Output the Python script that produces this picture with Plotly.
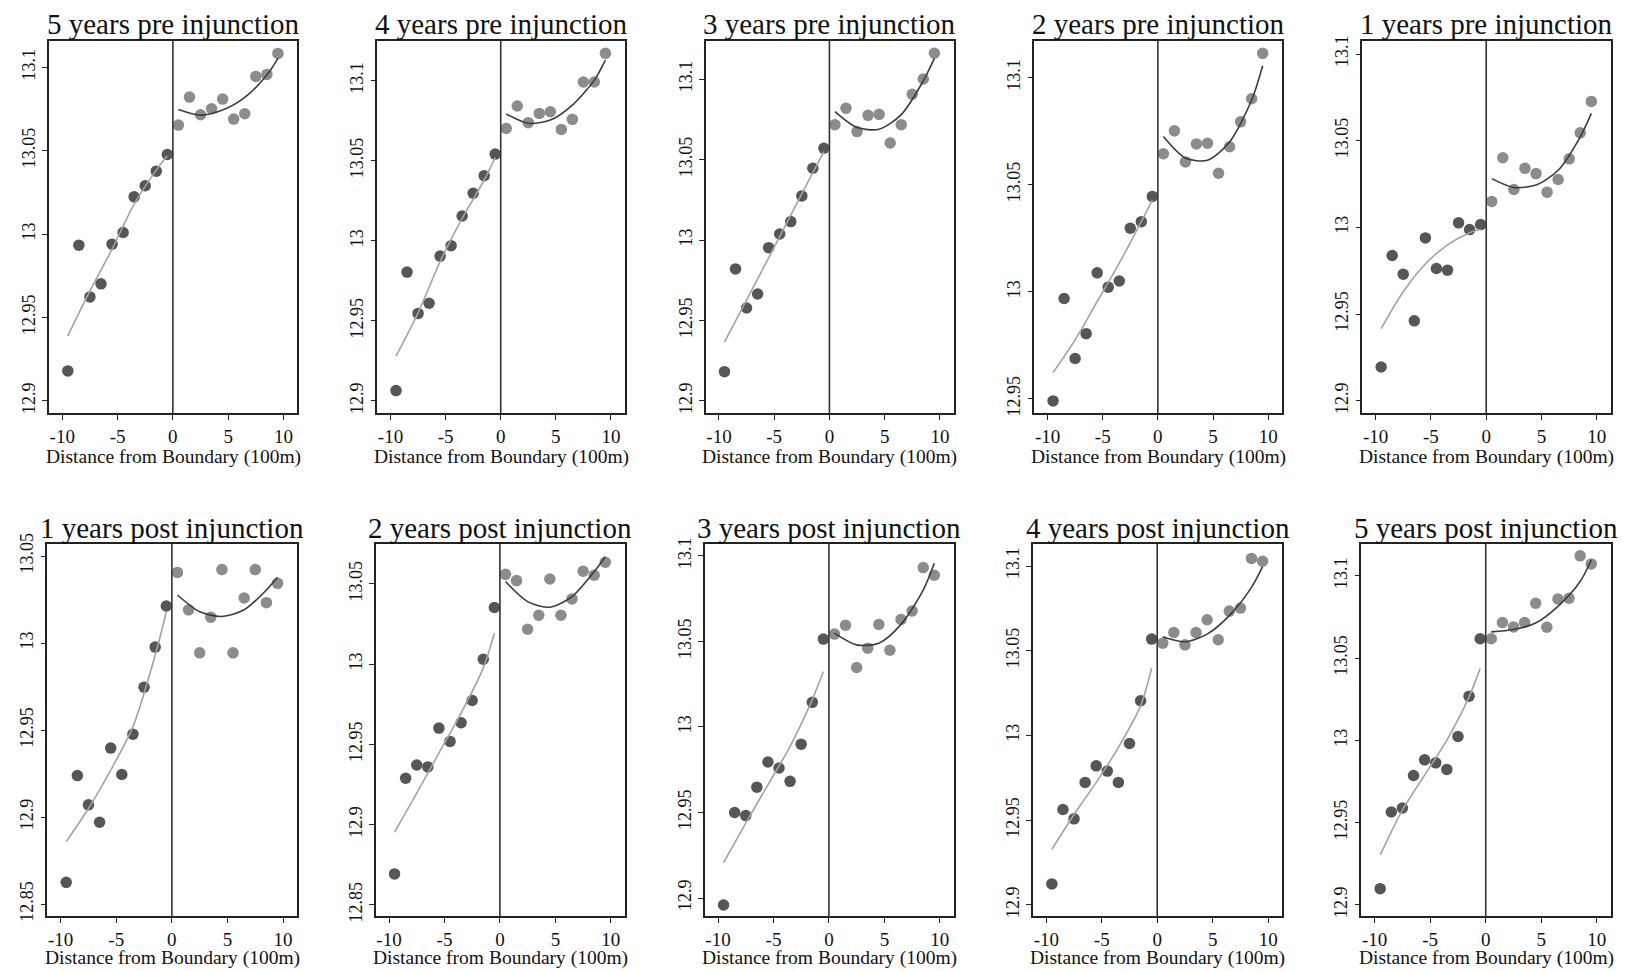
import plotly.graph_objects as go

W, H = 1629, 971

titles = ["5 years pre injunction", "4 years pre injunction", "3 years pre injunction",
          "2 years pre injunction", "1 years pre injunction",
          "1 years post injunction", "2 years post injunction", "3 years post injunction",
          "4 years post injunction", "5 years post injunction"]

x_left = [-9.5, -8.5, -7.5, -6.5, -5.5, -4.5, -3.5, -2.5, -1.5, -0.5]
x_right = [0.5, 1.5, 2.5, 3.5, 4.5, 5.5, 6.5, 7.5, 8.5, 9.5]
fit_x_left = [-9.5, -7.5, -5.5, -3.5, -1.5, -0.5]
fit_x_right = [0.5, 2.5, 4.5, 6.5, 8.5, 9.5]
x_tick_vals = [-10, -5, 0, 5, 10]
x_tick_text = ["-10", "-5", "0", "5", "10"]
x_title = "Distance from Boundary (100m)"

# binned means (left / right of boundary)
pre5_left = [12.918, 12.9934, 12.9624, 12.9702, 12.994, 13.001, 13.0224, 13.029, 13.0378, 13.0478]
pre5_right = [13.0654, 13.0822, 13.0716, 13.0752, 13.081, 13.069, 13.0722, 13.0946, 13.0958, 13.1084]
pre4_left = [12.9065, 12.9805, 12.9547, 12.961, 12.9905, 12.997, 13.0155, 13.0297, 13.0407, 13.0542]
pre4_right = [13.0702, 13.0842, 13.0738, 13.0796, 13.0806, 13.0696, 13.0759, 13.0992, 13.0992, 13.1171]
pre3_left = [12.9182, 12.9821, 12.9578, 12.9665, 12.9953, 13.0038, 13.0115, 13.0275, 13.0447, 13.0571]
pre3_right = [13.0718, 13.082, 13.0675, 13.0776, 13.0782, 13.0604, 13.0718, 13.0907, 13.1002, 13.1162]
pre2_left = [12.9491, 12.9969, 12.9689, 12.9805, 13.0089, 13.0022, 13.0051, 13.0297, 13.0328, 13.0446]
pre2_right = [13.0645, 13.0752, 13.0607, 13.0691, 13.0694, 13.0554, 13.0678, 13.0794, 13.0902, 13.1114]
pre1_left = [12.9196, 12.9839, 12.9731, 12.9462, 12.994, 12.9764, 12.9754, 13.0027, 12.9988, 13.0017]
pre1_right = [13.015, 13.0402, 13.0219, 13.0341, 13.0311, 13.0204, 13.0277, 13.0396, 13.0546, 13.0727]
post1_left = [12.8626, 12.9239, 12.9071, 12.8971, 12.9397, 12.9245, 12.9477, 12.9747, 12.9977, 13.0213]
post1_right = [13.0406, 13.0191, 12.9944, 13.0149, 13.0422, 12.9944, 13.0259, 13.0422, 13.0232, 13.0343]
post2_left = [12.8693, 12.9289, 12.9372, 12.936, 12.9602, 12.9519, 12.9635, 12.9774, 13.0031, 13.0353]
post2_right = [13.056, 13.0521, 13.0218, 13.0305, 13.0531, 13.0305, 13.0407, 13.0579, 13.0554, 13.0635]
post3_left = [12.8959, 12.95, 12.9482, 12.9648, 12.9795, 12.976, 12.9682, 12.9899, 13.0144, 13.0514]
post3_right = [13.0543, 13.0595, 13.0348, 13.0461, 13.0599, 13.0449, 13.0629, 13.0678, 13.0932, 13.0887]
post4_left = [12.9124, 12.9563, 12.9508, 12.9723, 12.9821, 12.979, 12.9723, 12.9953, 13.0205, 13.0569]
post4_right = [13.0545, 13.0608, 13.0535, 13.0608, 13.0683, 13.0565, 13.0734, 13.0752, 13.1045, 13.1028]
post5_left = [12.9099, 12.9565, 12.9589, 12.9787, 12.9882, 12.9864, 12.9824, 13.0024, 13.0269, 13.0618]
post5_right = [13.0618, 13.0717, 13.069, 13.0717, 13.0834, 13.0688, 13.086, 13.0864, 13.1122, 13.1073]

# fitted polynomial curves
pre5_fit_left = [12.939, 12.966, 12.991, 13.018, 13.0384, 13.047]
pre5_fit_right = [13.0748, 13.0714, 13.0744, 13.082, 13.0954, 13.1054]
pre4_fit_left = [12.928, 12.955, 12.987, 13.014, 13.038, 13.052]
pre4_fit_right = [13.0792, 13.0734, 13.0754, 13.0848, 13.1004, 13.1129]
pre3_fit_left = [12.9365, 12.9628, 12.989, 13.0155, 13.042, 13.055]
pre3_fit_right = [13.0799, 13.070, 13.069, 13.078, 13.099, 13.113]
pre2_fit_left = [12.9623, 12.9776, 12.9955, 13.0134, 13.0328, 13.043]
pre2_fit_right = [13.0726, 13.0625, 13.0615, 13.070, 13.0896, 13.1056]
pre1_fit_left = [12.9417, 12.963, 12.979, 12.990, 12.997, 12.999]
pre1_fit_right = [13.0282, 13.0231, 13.0245, 13.033, 13.0523, 13.0658]
post1_fit_left = [12.886, 12.905, 12.927, 12.952, 12.993, 13.018]
post1_fit_right = [13.0276, 13.018, 13.0153, 13.0191, 13.0305, 13.0378]
post2_fit_left = [12.8954, 12.9197, 12.9446, 12.9695, 12.9977, 13.0193]
post2_fit_right = [13.0515, 13.039, 13.0355, 13.0421, 13.0577, 13.067]
post3_fit_left = [12.9207, 12.9438, 12.9662, 12.9887, 13.016, 13.0324]
post3_fit_right = [13.0549, 13.048, 13.049, 13.060, 13.080, 13.0957]
post4_fit_left = [12.9328, 12.9534, 12.9723, 12.993, 13.0175, 13.0398]
post4_fit_right = [13.0583, 13.0553, 13.0598, 13.0707, 13.0874, 13.0996]
post5_fit_left = [12.9304, 12.9577, 12.9789, 13.0002, 13.0265, 13.0438]
post5_fit_right = [13.066, 13.0674, 13.0714, 13.0815, 13.0966, 13.1097]

y_ticks_a = [12.9, 12.95, 13.0, 13.05, 13.1]
y_ticks_b = [12.95, 13.0, 13.05, 13.1]
y_ticks_c = [12.85, 12.9, 12.95, 13.0, 13.05]

left_pts = [pre5_left, pre4_left, pre3_left, pre2_left, pre1_left,
            post1_left, post2_left, post3_left, post4_left, post5_left]
right_pts = [pre5_right, pre4_right, pre3_right, pre2_right, pre1_right,
             post1_right, post2_right, post3_right, post4_right, post5_right]
left_fits = [pre5_fit_left, pre4_fit_left, pre3_fit_left, pre2_fit_left, pre1_fit_left,
             post1_fit_left, post2_fit_left, post3_fit_left, post4_fit_left, post5_fit_left]
right_fits = [pre5_fit_right, pre4_fit_right, pre3_fit_right, pre2_fit_right, pre1_fit_right,
              post1_fit_right, post2_fit_right, post3_fit_right, post4_fit_right, post5_fit_right]
y_tick_sets = [y_ticks_a, y_ticks_a, y_ticks_a, y_ticks_b, y_ticks_a,
               y_ticks_c, y_ticks_c, y_ticks_a, y_ticks_a, y_ticks_a]

# ---- layout geometry (pixels) ----
boxes = [(49, 297.3, 40.7, 413.3), (377.3, 624.7, 40.7, 413.3), (705.7, 953.7, 40.7, 413.3),
         (1034.3, 1282, 40.7, 413.3), (1362.3, 1610.7, 40.7, 413.3),
         (47.3, 297, 544, 916.3), (375.7, 624.7, 544, 916.3), (704.7, 953.7, 544, 916.3),
         (1033, 1282, 544, 916.3), (1361.3, 1610.7, 544, 916.3)]
y_ranges = [[12.8926, 13.116], [12.8923, 13.125], [12.8923, 13.124], [12.9433, 13.1173],
            [12.8929, 13.1077], [12.8431, 13.0569], [12.8429, 13.0749], [12.8893, 13.107],
            [12.8933, 13.113], [12.8931, 13.1194]]
x_range = [-11.2, 11.25]

FONT = "Liberation Serif"
DARK_PT = "#565656"
LIGHT_PT = "#8c8c8c"
LEFT_LINE = "#a3a3a3"
RIGHT_LINE = "#3c3c3c"
FRAME = "#222222"


def fmt(v):
    s = ("%.2f" % v).rstrip("0").rstrip(".")
    return s


fig = go.Figure()
layout = dict(
    width=W, height=H, autosize=False, margin=dict(l=0, r=0, t=0, b=0, pad=0),
    paper_bgcolor="white", plot_bgcolor="white", showlegend=False,
    font=dict(family=FONT, color="#111111"),
)
annotations = []
shapes = []

for i in range(10):
    k = "" if i == 0 else str(i + 1)
    xa, ya = "x" + k, "y" + k
    l, r, t, b = boxes[i]
    layout["xaxis" + k] = dict(
        domain=[l / W, r / W], anchor=ya, range=x_range,
        tickvals=x_tick_vals, ticktext=x_tick_text, ticks="outside", ticklen=5,
        tickwidth=1.2, tickcolor=FRAME, showgrid=False, zeroline=False,
        showline=True, linecolor=FRAME, linewidth=1.5, mirror=True,
        automargin=False,
        tickfont=dict(family=FONT, size=19, color="#111111"),
    )
    layout["yaxis" + k] = dict(
        domain=[1 - b / H, 1 - t / H], anchor=xa, range=y_ranges[i],
        tickvals=y_tick_sets[i], ticktext=[fmt(v) for v in y_tick_sets[i]],
        ticks="outside", ticklen=5, tickwidth=1.2, tickcolor=FRAME, tickangle=-90,
        showgrid=False, zeroline=False, showline=True, linecolor=FRAME,
        linewidth=1.5, mirror=True, automargin=False,
        tickfont=dict(family=FONT, size=18, color="#111111"),
    )
    fig.add_trace(go.Scatter(x=x_left, y=left_pts[i], mode="markers", xaxis=xa, yaxis=ya,
                             marker=dict(size=11.5, color=DARK_PT, line=dict(width=0))))
    fig.add_trace(go.Scatter(x=x_right, y=right_pts[i], mode="markers", xaxis=xa, yaxis=ya,
                             marker=dict(size=11.5, color=LIGHT_PT, line=dict(width=0))))
    fig.add_trace(go.Scatter(x=fit_x_left, y=left_fits[i], mode="lines", xaxis=xa, yaxis=ya,
                             line=dict(color=LEFT_LINE, width=1.6, shape="spline", smoothing=0.8)))
    fig.add_trace(go.Scatter(x=fit_x_right, y=right_fits[i], mode="lines", xaxis=xa, yaxis=ya,
                             line=dict(color=RIGHT_LINE, width=1.6, shape="spline", smoothing=0.8)))
    shapes.append(dict(type="line", xref=xa, yref=ya + " domain", x0=0, x1=0, y0=0, y1=1,
                       line=dict(color="#333333", width=1.6)))
    cx = (l + r) / 2 / W
    title_y = 24.5 if i < 5 else 528
    annotations.append(dict(text=titles[i], x=cx, y=1 - title_y / H, xref="paper", yref="paper",
                            xanchor="center", yanchor="middle", showarrow=False,
                            font=dict(family=FONT, size=29, color="#111111")))
    xt_y = 457 if i < 5 else 958
    annotations.append(dict(text=x_title, x=cx, y=1 - xt_y / H, xref="paper", yref="paper",
                            xanchor="center", yanchor="middle", showarrow=False,
                            font=dict(family=FONT, size=19.5, color="#111111")))

layout["annotations"] = annotations
layout["shapes"] = shapes
fig.update_layout(**layout)
fig.write_html("out.html", config={"responsive": False},
               post_script="document.body.style.margin='0';document.body.style.overflow='hidden';")
